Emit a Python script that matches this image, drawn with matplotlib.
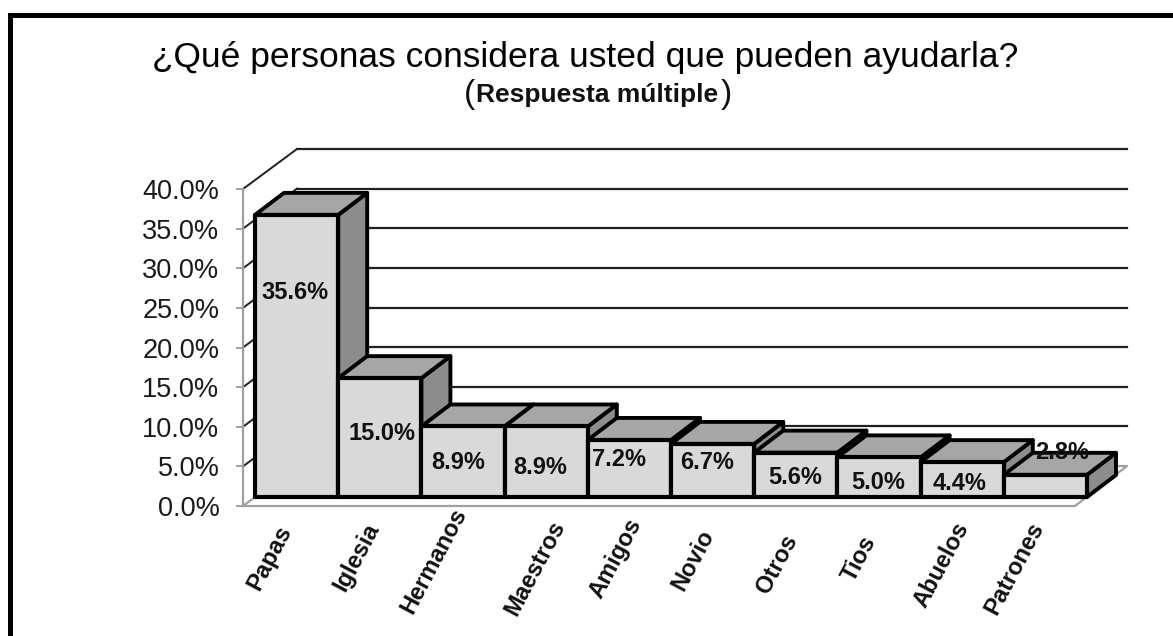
import matplotlib
matplotlib.use("Agg")
import matplotlib.pyplot as plt
from matplotlib.patches import Rectangle
from matplotlib.transforms import Affine2D

categories = ["Papas", "Iglesia", "Hermanos", "Maestros", "Amigos", "Novio", "Otros", "Tios", "Abuelos", "Patrones"]
values = [35.6, 15.0, 8.9, 8.9, 7.2, 6.7, 5.6, 5.0, 4.4, 2.8]
value_labels = ["35.6%", "15.0%", "8.9%", "8.9%", "7.2%", "6.7%", "5.6%", "5.0%", "4.4%", "2.8%"]
y_ticks = [0, 5, 10, 15, 20, 25, 30, 35, 40]
# where each label sits from the bar top centre, pixels (they were moved by hand in the original)
label_dx = [-2, 2, -5, -6, -10, -6, -1, -1, -3, 17]
label_dy = [-78, -55, -36, -41, -20, -19, -25, -25, -21, 22]
# category labels are not evenly spaced in the original either
tick_nudge_x = [-9, -4, 0, 15, 8, -2, -2, -7, 3, -5]
tick_nudge_y = [0, 2, 17, 5, 7, -4, -10, -11, 3, 3]

plt.rcParams["font.family"] = ["Liberation Sans", "DejaVu Sans"]

W, H = 1173, 636
fig = plt.figure(figsize=(W / 100, H / 100), dpi=100, facecolor="white")
ax = fig.add_axes([243 / W, (H - 506) / H, 832 / W, 317 / H])
ax.set_xlim(-0.5, 9.5)
ax.set_ylim(0, 40)
ax.patch.set_visible(False)
for s in ["top", "right", "bottom"]:
    ax.spines[s].set_visible(False)
ax.spines["left"].set_color("#a0a0a0")
ax.spines["left"].set_linewidth(1.6)

# wall and floor are shifted back in pixels
back = ax.transData + Affine2D().translate(54, 40)
front = ax.transData + Affine2D().translate(12, 9)
px_x = 832 / 10
px_y = 317 / 40
dx = 29 / px_x
dy = 22 / px_y
right_end = 9.5 - 2 / px_x

for t in y_ticks[1:]:
    ax.plot([-0.5, right_end], [t, t], color="#202020", lw=1.6, transform=back, clip_on=False, zorder=1)
    ax.plot([-0.5, -0.5 + 54 / px_x], [t, t + 40 / px_y], color="#202020", lw=1.4, clip_on=False, zorder=1)
# floor
ax.plot([-0.5, 9.5, right_end + 54 / px_x, -0.5 + 54 / px_x, -0.5], [0, 0, 40 / px_y, 40 / px_y, 0],
        color="#a0a0a0", lw=1.6, clip_on=False, zorder=1)

for i, v in enumerate(values):
    z = 3 + i
    # side, top, then front so the next bar covers this one
    ax.fill([i + 0.5, i + 0.5 + dx, i + 0.5 + dx, i + 0.5], [0, dy, v + dy, v], facecolor="#8c8c8c",
            edgecolor="black", lw=2.8, transform=front, clip_on=False, zorder=z, joinstyle="round")
    ax.fill([i - 0.5, i + 0.5, i + 0.5 + dx, i - 0.5 + dx], [v, v, v + dy, v + dy], facecolor="#a6a6a6",
            edgecolor="black", lw=2.8, transform=front, clip_on=False, zorder=z, joinstyle="round")
    ax.bar(i, v, width=1, facecolor="#d9d9d9", edgecolor="black", lw=3, transform=front,
           clip_on=False, zorder=z, joinstyle="round")

ax.set_xlim(-0.5, 9.5)
ax.set_ylim(0, 40)

for i, v in enumerate(values):
    ax.annotate(value_labels[i], xy=(i, v), xycoords=front, xytext=(label_dx[i], label_dy[i]),
                textcoords="offset pixels", ha="center", va="center", fontsize=17, fontweight="bold",
                color="#111111", zorder=20, annotation_clip=False)

ax.set_yticks(y_ticks)
ax.set_yticklabels(["%.1f%%" % t for t in y_ticks], fontsize=19.5, color="#1a1a1a")
ax.tick_params(axis="y", length=5, width=1.4, color="#a0a0a0", pad=12)
ax.set_xticks(range(len(categories)))
ax.set_xticklabels(categories, rotation=62, ha="right", rotation_mode="anchor", fontsize=17,
                   fontweight="bold", color="#111111")
ax.tick_params(axis="x", length=0, pad=11)
for lab, nx, ny in zip(ax.get_xticklabels(), tick_nudge_x, tick_nudge_y):
    lab.set_transform(lab.get_transform() + Affine2D().translate(nx, ny))

fig.text(585 / W, 1 - 58 / H, "¿Qué personas considera usted que pueden ayudarla?", ha="center", va="center",
         fontsize=25.5, color="black")
fig.text(597 / W, 1 - 95 / H, "Respuesta múltiple", ha="center", va="center", fontsize=19,
         fontweight="bold", color="#111111")
# the brackets are bigger and not bold in the original
fig.text(469 / W, 1 - 94 / H, "(", ha="center", va="center", fontsize=24, color="#111111")
fig.text(726 / W, 1 - 94 / H, ")", ha="center", va="center", fontsize=24, color="#111111")

# black frame, runs off the right and bottom of the picture
fig.add_artist(Rectangle((10 / W, -0.05), 1.2, 1.05 - 15.5 / H, transform=fig.transFigure,
                         facecolor="none", edgecolor="black", lw=3.6))

fig.savefig("out.png", dpi=100)
